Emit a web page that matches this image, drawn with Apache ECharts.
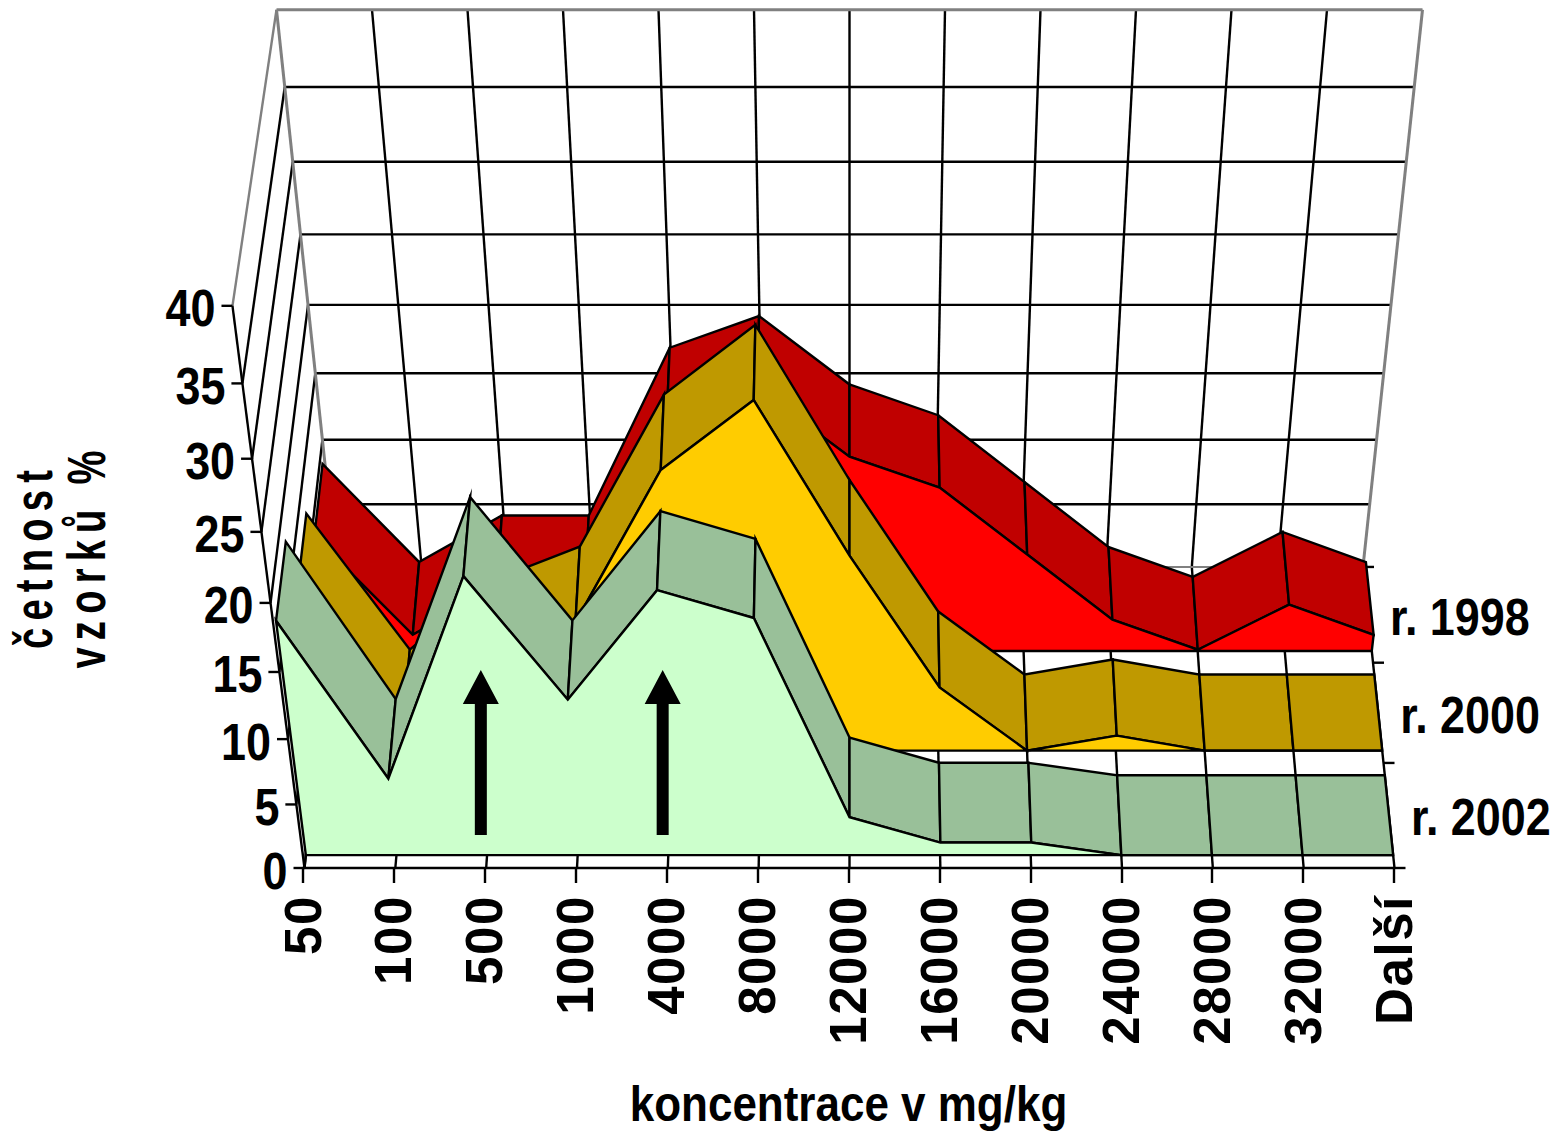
<!DOCTYPE html>
<html><head><meta charset="utf-8">
<style>
html,body{margin:0;padding:0;background:#fff}
#c{width:1556px;height:1131px}
svg text[transform^="matrix(0,"]{letter-spacing:1.6px}
svg text[transform^="matrix(0,"][style*="53px"]{letter-spacing:10px}
</style>
<script src="https://cdn.jsdelivr.net/npm/echarts@6/dist/echarts.min.js"></script>
</head><body><div id="c"></div>
<script>
const categories=['50','100','500','1000','4000','8000','12000','16000','20000','24000','28000','32000','Další'];
const yTicks=[0,5,10,15,20,25,30,35,40];
const depthTicks=[0,1,2,3];
const years=['r. 1998','r. 2000','r. 2002'];
const values1998=[9,1.3,5,5,17.7,20,15,12.7,7.6,2.5,0.1,3.7,1.3];
const values2000=[12.5,2,7.4,10,21.2,26.1,15,5,0,1.2,0,0,0];
const values2002=[17.8,6,21,12,20,18,3,1,1,0,0,0,0];
const arrowCategories=[2,4];

// Layout of the 2D grid that carries the scales
const G={left:303,right:1394,top:306,bottom:868,vMax:40};
const cx=849.5;
function warp(p,z){
  const u=(p[0]-G.left)/(G.right-G.left);
  const v=(G.bottom-p[1])/(G.bottom-G.top)*G.vMax;
  const t=0.3574*z/(1+0.024*z);
  const yF=G.bottom-12.54*v/(1-0.002694*v);
  const hF=545+(G.bottom-yF)*72/562;
  const xF=cx+(u-0.5)*2*hF;
  const yB=567-12.37*v/(1-0.0028*v);
  const hB=513.5+(567-yB)*0.1068;
  const xB=cx+(u-0.5)*2*hB;
  return [xF+(xB-xF)*t,yF+(yB-yF)*t];
}
const BLACK='#000',GREY='#808080',LW=2.4,FONT='"Liberation Sans"',NARROW=0.88;
function line(a,b,color,w){
  return {type:'line',shape:{x1:a[0],y1:a[1],x2:b[0],y2:b[1]},style:{stroke:color||BLACK,lineWidth:w||LW,fill:null}};
}
function poly(pts,fill){
  return {type:'polygon',shape:{points:pts},style:{fill:fill,stroke:BLACK,lineWidth:LW,lineJoin:'miter',miterLimit:8}};
}
function narrowText(text,x,y,align){
  return {type:'text',x:x,y:y,scaleX:NARROW,style:{text:text,x:0,y:0,align:align,verticalAlign:'middle',
    fontFamily:FONT,fontWeight:'bold',fontSize:51,fill:BLACK}};
}
function frame(params,api){
  const P=(i,v,z)=>warp(api.coord([i,v]),z);
  const n=categories.length-1,ch=[];
  yTicks.forEach(v=>{
    const f=P(0,v,0);
    if(v>0&&v<40)ch.push(line(P(0,v,3),P(n,v,3)));
    ch.push(line(f,P(0,v,3),v===40?GREY:BLACK));
    ch.push(line([f[0]-11,f[1]],f));
    ch.push(narrowText(String(v),f[0]-17,f[1]+3,'right'));
  });
  categories.forEach((c,i)=>{
    if(i>0&&i<n)ch.push(line(P(i,0,3),P(i,40,3)));
    ch.push(line(P(i,0,0),P(i,0,3)));
  });
  depthTicks.forEach(z=>{const r=P(n,0,z);ch.push(line(r,[r[0]+11,r[1]]));});
  ch.push(line(P(0,0,0),P(0,40,0)));
  ch.push(line(P(0,40,3),P(n,40,3),GREY,3));
  ch.push(line(P(0,0,3),P(0,40,3),GREY,3));
  ch.push(line(P(n,0,3),P(n,40,3),GREY,3));
  ch.push(line(P(0,0,3),P(n,0,3),GREY,2));
  return {type:'group',children:ch};
}
function areaSeries(name,values,z0,z1,face,side,labelZ){
  return {type:'custom',name:name,coordinateSystem:'cartesian2d',silent:true,animation:false,
    data:values.map((v,i)=>[i,v]),
    renderItem(params,api){
      const i=params.dataIndex,ch=[];
      const P=(k,z)=>warp(api.coord([k,values[k]]),z);
      if(i<values.length-1){
        ch.push(poly([P(i,z0),P(i+1,z0),P(i+1,z1),P(i,z1)],side));
      }else{
        const pts=values.map((v,k)=>P(k,z0));
        pts.push(warp(api.coord([i,0]),z0));
        pts.push(warp(api.coord([0,0]),z0));
        ch.push(poly(pts,face));
        const r=warp(api.coord([i,0]),labelZ);
        ch.push(narrowText(name,r[0]+22,r[1]+3,'left'));
      }
      return {type:'group',children:ch};
    }};
}
const chart=echarts.init(document.getElementById('c'),null,{renderer:'svg'});
chart.setOption({
  animation:false,backgroundColor:'#fff',
  grid:{left:G.left,right:1556-G.right,top:G.top,bottom:1131-G.bottom,containLabel:false},
  xAxis:{type:'category',boundaryGap:false,data:categories,z:20,
    axisLine:{lineStyle:{color:BLACK,width:LW}},
    axisTick:{show:true,alignWithLabel:true,length:15,lineStyle:{color:BLACK,width:LW}},
    axisLabel:{interval:0,rotate:90,margin:27,padding:[6,0,0,0],color:BLACK,fontFamily:FONT,fontWeight:'bold',fontSize:51},
    splitLine:{show:false}},
  yAxis:{type:'value',min:0,max:G.vMax,show:false},
  graphic:[
   {type:'text',x:60.5,y:556,rotation:Math.PI/2,scaleX:0.72,z:30,
    style:{text:'četnost\nvzorků %',align:'center',verticalAlign:'middle',lineHeight:53,
      fontFamily:FONT,fontWeight:'bold',fontSize:53,fill:BLACK}},
   {type:'text',x:848.5,y:1103,scaleX:NARROW,z:30,
    style:{text:'koncentrace v mg/kg',align:'center',verticalAlign:'middle',
      fontFamily:FONT,fontWeight:'bold',fontSize:50,fill:BLACK}}],
  series:[
    {type:'custom',name:'frame',coordinateSystem:'cartesian2d',silent:true,animation:false,data:[[0,0]],renderItem:frame},
    areaSeries(years[0],values1998,2.12,2.88,'#FF0000','#C00000',2.5),
    areaSeries(years[1],values2000,1.12,1.88,'#FFCC00','#BF9900',1.5),
    areaSeries(years[2],values2002,0.12,0.88,'#CCFFCC','#99C099',0.5),
    {type:'custom',name:'arrows',coordinateSystem:'cartesian2d',silent:true,animation:false,
     data:arrowCategories.map(c=>[c,0]),
     renderItem(params,api){
       const p=api.coord([arrowCategories[params.dataIndex],0]);
       const x=p[0]-4,b=p[1];
       return {type:'polygon',shape:{points:[[x-6,b-33],[x+6,b-33],[x+6,b-164],[x+18,b-164],[x,b-198],[x-18,b-164],[x-6,b-164]]},
         style:{fill:BLACK}};
     }}
  ]
});
</script></body></html>
